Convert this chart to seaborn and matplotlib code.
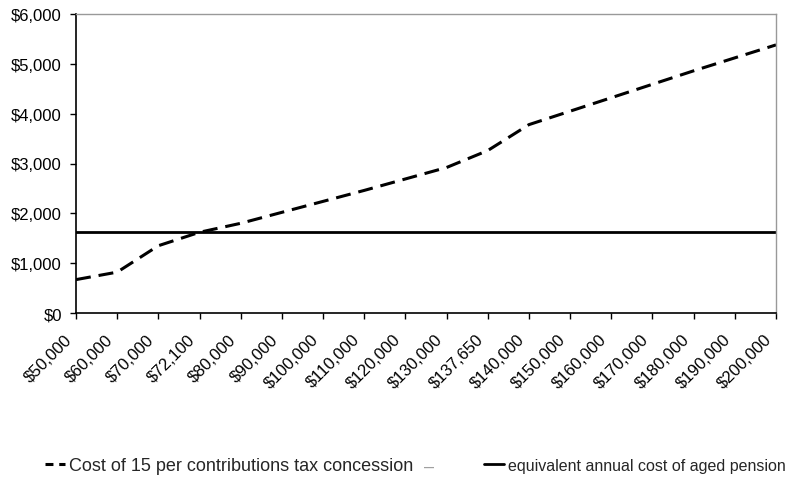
import matplotlib
matplotlib.use("Agg")
import matplotlib.pyplot as plt
import matplotlib.transforms as mtransforms
import seaborn as sns
import pandas as pd
from matplotlib.lines import Line2D
from matplotlib.ticker import FuncFormatter, MultipleLocator

# Income levels (categorical x axis)
incomes = ["$50,000", "$60,000", "$70,000", "$72,100", "$80,000", "$90,000",
           "$100,000", "$110,000", "$120,000", "$130,000", "$137,650", "$140,000",
           "$150,000", "$160,000", "$170,000", "$180,000", "$190,000", "$200,000"]

# Annual cost of the 15 per cent contributions tax concession
concession_cost = [670, 820, 1350, 1620, 1800, 2020, 2240, 2460, 2690, 2920,
                   3260, 3780, 4050, 4320, 4590, 4860, 5120, 5380]

# Equivalent annual cost of the aged pension
pension_cost = [1620] * len(incomes)

label_concession = "Cost of 15 per contributions tax concession"
label_pension = "equivalent annual cost of aged pension"

df = pd.DataFrame({"income": incomes,
                   "concession": concession_cost,
                   "pension": pension_cost})

sns.set_theme(style="white")
plt.rcParams["font.family"] = ["Liberation Sans", "DejaVu Sans"]

W, H = 794, 481
fig = plt.figure(figsize=(W / 100, H / 100), dpi=100)
ax = fig.add_axes([76 / W, 1 - 314 / H, 700 / W, 299 / H])

LW = 2.2
DASH = (4.9, 2.6)

sns.lineplot(data=df, x="income", y="concession", ax=ax, color="black",
             linewidth=LW, sort=False)
ax.lines[-1].set_dashes(DASH)
sns.lineplot(data=df, x="income", y="pension", ax=ax, color="black",
             linewidth=2.0, sort=False)

ax.set_xlim(0, len(incomes) - 1)
ax.set_ylim(0, 6000)
ax.yaxis.set_major_locator(MultipleLocator(1000))
ax.yaxis.set_major_formatter(FuncFormatter(lambda v, p: f"${v:,.0f}"))
ax.set_xlabel("")
ax.set_ylabel("")

ax.set_xticks(range(len(incomes)))
ax.set_xticklabels(incomes, rotation=45, ha="right", va="top",
                   rotation_mode="anchor")
ax.tick_params(axis="both", which="major", labelsize=12, colors="black",
               direction="out", length=4.3, width=1, bottom=True, left=True)
ax.tick_params(axis="y", pad=5.8)
ax.tick_params(axis="x", pad=9)
shift = mtransforms.ScaledTranslation(-12 / 100, 0, fig.dpi_scale_trans)
for lbl in ax.get_xticklabels():
    lbl.set_transform(lbl.get_transform() + shift)

for side in ("left", "bottom"):
    ax.spines[side].set_color("black")
    ax.spines[side].set_linewidth(1.2)
for side in ("top", "right"):
    ax.spines[side].set_color("#999999")
    ax.spines[side].set_linewidth(1.0)

handles = [Line2D([], [], color="black", linewidth=LW, dashes=(2.6, 1.9)),
           Line2D([], [], color="black", linewidth=2.0)]
leg = fig.legend(handles, [label_concession, label_pension], ncol=2,
                 loc="center left", bbox_to_anchor=(45 / W, 1 - 467 / H),
                 frameon=False, fontsize=13, handlelength=1.1,
                 handletextpad=0.25, columnspacing=3.9,
                 borderpad=0, borderaxespad=0)
leg.get_texts()[1].set_fontsize(11.5)
fig.text(424 / W, 1 - 467 / H, "\u2013", color="#a0a0a0", fontsize=13,
         ha="left", va="center")

fig.savefig("out.png", dpi=100)
